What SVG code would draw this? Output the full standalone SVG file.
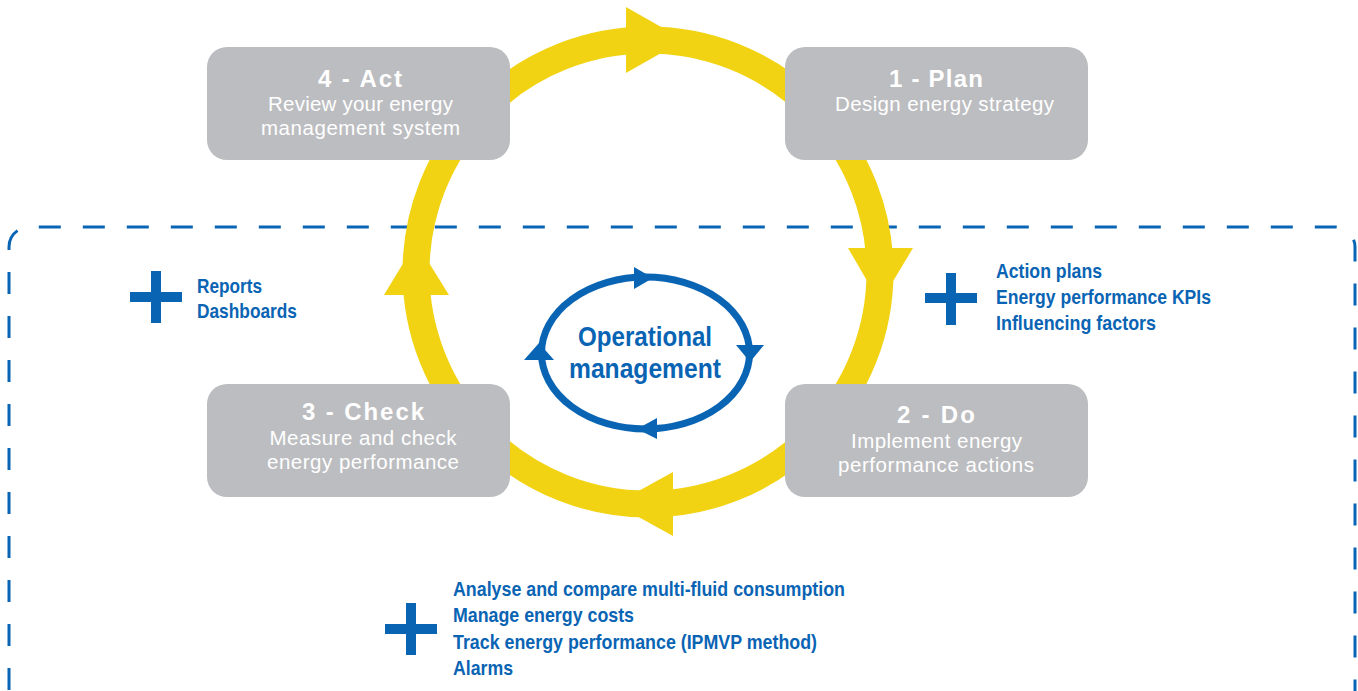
<svg xmlns="http://www.w3.org/2000/svg" width="1358" height="691" viewBox="0 0 1358 691">
<style>
.box{fill:#bcbdc0}
.t{font-family:"Liberation Sans",Arial,sans-serif;fill:#ffffff;text-anchor:middle}
.tt{font-size:24px;font-weight:bold}
.ts{font-size:20.5px}
.b{font-family:"Liberation Sans",Arial,sans-serif;font-weight:bold;font-size:21px;fill:#0a64b4}
.plus{fill:#0a64b4}
.ring{fill:none;stroke:#f2d314;stroke-width:27}
.yh{fill:#f2d314}
.ell{fill:none;stroke:#0a64b4;stroke-width:7}
.bh{fill:#0a64b4}
.dash{fill:none;stroke:#0a64b4;stroke-width:3;stroke-dasharray:22 22;stroke-dashoffset:34}
</style>
<rect width="1358" height="691" fill="#ffffff"/>
<g id="frame">
<path class="dash" d="M9,700 V247 A20,20 0 0 1 29,227 H1335 A20,20 0 0 1 1355,247 V700"/>
</g>
<g id="connectors">
<circle class="ring" cx="648" cy="272" r="232"/>
<polygon class="yh" points="626,7 626,73 684,40"/>
<polygon class="yh" points="848,248 913,248 880,303"/>
<polygon class="yh" points="673,472 673,536 615,504"/>
<polygon class="yh" points="384,295 449,295 416,242"/>
<ellipse class="ell" cx="645.5" cy="353" rx="104" ry="76"/>
<polygon class="bh" points="634,267 634,289 653,278"/>
<polygon class="bh" points="736,345 764,345 750,362"/>
<polygon class="bh" points="657,418 657,439 637,429"/>
<polygon class="bh" points="524,360 554,360 539,343"/>
</g>
<g id="act">
<rect class="box" x="207" y="47" width="303" height="113" rx="20"/>
<text class="t tt" x="360" y="87" textLength="84">4 - Act</text>
<text class="t ts" x="360.5" y="111" textLength="185">Review your energy</text>
<text class="t ts" x="360.5" y="135" textLength="199">management system</text>
</g>
<g id="plan">
<rect class="box" x="785" y="47" width="303" height="113" rx="20"/>
<text class="t tt" x="936" y="87" textLength="94">1 - Plan</text>
<text class="t ts" x="944.5" y="111" textLength="219">Design energy strategy</text>
</g>
<g id="check">
<rect class="box" x="207" y="384" width="303" height="113" rx="20"/>
<text class="t tt" x="363" y="420" textLength="122">3 - Check</text>
<text class="t ts" x="363" y="445" textLength="187">Measure and check</text>
<text class="t ts" x="363" y="469" textLength="192">energy performance</text>
</g>
<g id="do">
<rect class="box" x="785" y="384" width="303" height="113" rx="20"/>
<text class="t tt" x="936" y="423" textLength="78">2 - Do</text>
<text class="t ts" x="936.5" y="448" textLength="171">Implement energy</text>
<text class="t ts" x="936" y="472" textLength="196">performance actions</text>
</g>
<g id="operational">
<text class="b" style="font-size:27px;text-anchor:middle" x="645" y="346" textLength="134" lengthAdjust="spacingAndGlyphs">Operational</text>
<text class="b" style="font-size:27px;text-anchor:middle" x="645" y="378" textLength="152" lengthAdjust="spacingAndGlyphs">management</text>
</g>
<g id="note-check">
<rect class="plus" x="151" y="271" width="10" height="52"/>
<rect class="plus" x="130" y="292" width="52" height="10"/>
<text class="b" x="197" y="293" textLength="65" lengthAdjust="spacingAndGlyphs">Reports</text>
<text class="b" x="197" y="318" textLength="100" lengthAdjust="spacingAndGlyphs">Dashboards</text>
</g>
<g id="note-plan">
<rect class="plus" x="946" y="273" width="10" height="52"/>
<rect class="plus" x="925" y="293" width="52" height="10"/>
<text class="b" x="996" y="278" textLength="106" lengthAdjust="spacingAndGlyphs">Action plans</text>
<text class="b" x="996" y="304" textLength="215" lengthAdjust="spacingAndGlyphs">Energy performance KPIs</text>
<text class="b" x="996" y="330" textLength="160" lengthAdjust="spacingAndGlyphs">Influencing factors</text>
</g>
<g id="note-operational">
<rect class="plus" x="406" y="603" width="10" height="52"/>
<rect class="plus" x="385" y="624" width="52" height="10"/>
<text class="b" x="453" y="596" textLength="392" lengthAdjust="spacingAndGlyphs">Analyse and compare multi-fluid consumption</text>
<text class="b" x="453" y="622" textLength="181" lengthAdjust="spacingAndGlyphs">Manage energy costs</text>
<text class="b" x="453" y="649" textLength="364" lengthAdjust="spacingAndGlyphs">Track energy performance (IPMVP method)</text>
<text class="b" x="453" y="675" textLength="60" lengthAdjust="spacingAndGlyphs">Alarms</text>
</g>
</svg>
